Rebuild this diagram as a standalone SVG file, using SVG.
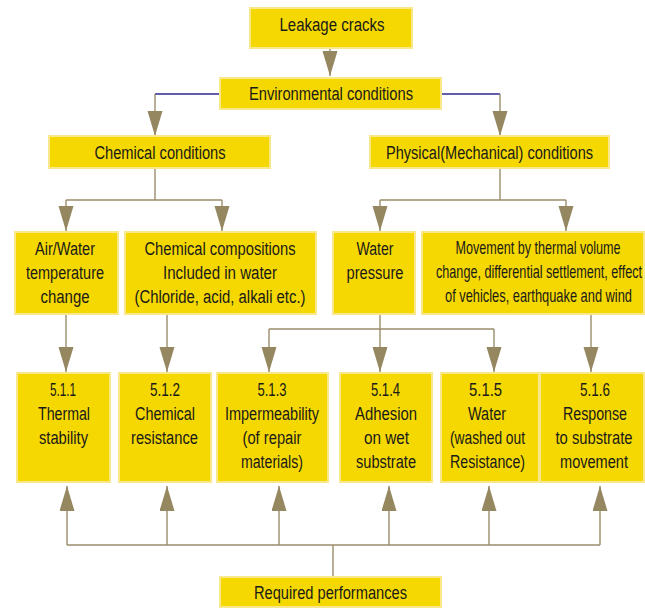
<svg xmlns="http://www.w3.org/2000/svg" width="645" height="608" viewBox="0 0 645 608">
<defs>
<style>
.box{fill:#F5D800;stroke:#F9E78C;stroke-width:2}
.t{font-family:"Liberation Sans",Arial,sans-serif;font-size:19px;fill:#1a1a1a;text-anchor:middle}
.s{font-size:17.5px}
.ln{fill:none;stroke:#9A8D6A;stroke-width:1.4}
.bl{fill:none;stroke:#2E2A8C;stroke-width:1.3}
</style>
<marker id="ah" markerUnits="userSpaceOnUse" markerWidth="26" markerHeight="16" refX="25" refY="7.5" orient="auto" viewBox="0 0 26 16">
<path d="M0,0 L25,7.5 L0,15 Z" fill="#958760"/>
</marker>
</defs>
<rect width="645" height="608" fill="#ffffff"/>
<g id="connectors">
<line class="ln" x1="330" y1="48" x2="330" y2="76" marker-end="url(#ah)"/>
<polyline class="bl" points="220,94 155,94"/>
<line class="ln" x1="155" y1="94" x2="155" y2="136" marker-end="url(#ah)"/>
<polyline class="bl" points="441,94 500,94"/>
<line class="ln" x1="500" y1="94" x2="500" y2="136" marker-end="url(#ah)"/>
<line class="ln" x1="155" y1="168" x2="155" y2="200"/>
<line class="ln" x1="66" y1="200" x2="222" y2="200"/>
<line class="ln" x1="66" y1="200" x2="66" y2="231" marker-end="url(#ah)"/>
<line class="ln" x1="222" y1="200" x2="222" y2="231" marker-end="url(#ah)"/>
<line class="ln" x1="500" y1="168" x2="500" y2="200"/>
<line class="ln" x1="380" y1="200" x2="566" y2="200"/>
<line class="ln" x1="380" y1="200" x2="380" y2="231" marker-end="url(#ah)"/>
<line class="ln" x1="566" y1="200" x2="566" y2="231" marker-end="url(#ah)"/>
<line class="ln" x1="66" y1="314" x2="66" y2="372" marker-end="url(#ah)"/>
<line class="ln" x1="167" y1="314" x2="167" y2="372" marker-end="url(#ah)"/>
<line class="ln" x1="380" y1="314" x2="380" y2="372" marker-end="url(#ah)"/>
<line class="ln" x1="269" y1="329" x2="494" y2="329"/>
<line class="ln" x1="269" y1="329" x2="269" y2="372" marker-end="url(#ah)"/>
<line class="ln" x1="494" y1="329" x2="494" y2="372" marker-end="url(#ah)"/>
<line class="ln" x1="591" y1="314" x2="591" y2="372" marker-end="url(#ah)"/>
<line class="ln" x1="67" y1="545" x2="600" y2="545"/>
<line class="ln" x1="333" y1="577" x2="333" y2="545"/>
<line class="ln" x1="67" y1="545" x2="67" y2="486" marker-end="url(#ah)"/>
<line class="ln" x1="167" y1="545" x2="167" y2="486" marker-end="url(#ah)"/>
<line class="ln" x1="279" y1="545" x2="279" y2="486" marker-end="url(#ah)"/>
<line class="ln" x1="389" y1="545" x2="389" y2="486" marker-end="url(#ah)"/>
<line class="ln" x1="489" y1="545" x2="489" y2="486" marker-end="url(#ah)"/>
<line class="ln" x1="600" y1="545" x2="600" y2="486" marker-end="url(#ah)"/>
</g>
<g id="leakage">
<rect class="box" x="250" y="8" width="162" height="40"/>
<text class="t" transform="translate(332,31) scale(0.78,1)" textLength="134.6" lengthAdjust="spacingAndGlyphs">Leakage cracks</text>
</g>
<g id="environmental">
<rect class="box" x="220" y="78" width="221" height="31"/>
<text class="t" transform="translate(331,100) scale(0.78,1)" textLength="210.3" lengthAdjust="spacingAndGlyphs">Environmental conditions</text>
</g>
<g id="chemical">
<rect class="box" x="49" y="136" width="221" height="32"/>
<text class="t" transform="translate(160,159) scale(0.78,1)" textLength="167.9" lengthAdjust="spacingAndGlyphs">Chemical conditions</text>
</g>
<g id="physical">
<rect class="box" x="370" y="136" width="239" height="32"/>
<text class="t" transform="translate(489.5,159) scale(0.78,1)" textLength="265.4" lengthAdjust="spacingAndGlyphs">Physical(Mechanical) conditions</text>
</g>
<g id="airwater">
<rect class="box" x="15" y="232" width="103" height="82"/>
<text class="t" transform="translate(65,255) scale(0.78,1)" textLength="76.9" lengthAdjust="spacingAndGlyphs">Air/Water</text>
<text class="t" transform="translate(65,279) scale(0.78,1)" textLength="100" lengthAdjust="spacingAndGlyphs">temperature</text>
<text class="t" transform="translate(65,303) scale(0.78,1)" textLength="62.8" lengthAdjust="spacingAndGlyphs">change</text>
</g>
<g id="compositions">
<rect class="box" x="125" y="232" width="191" height="82"/>
<text class="t" transform="translate(220,255) scale(0.78,1)" textLength="193.6" lengthAdjust="spacingAndGlyphs">Chemical compositions</text>
<text class="t" transform="translate(220,279) scale(0.78,1)" textLength="146.2" lengthAdjust="spacingAndGlyphs">Included in water</text>
<text class="t" transform="translate(220,303) scale(0.78,1)" textLength="219.2" lengthAdjust="spacingAndGlyphs">(Chloride, acid, alkali etc.)</text>
</g>
<g id="waterpressure">
<rect class="box" x="333" y="232" width="82" height="82"/>
<text class="t" transform="translate(375,255) scale(0.78,1)" textLength="47.4" lengthAdjust="spacingAndGlyphs">Water</text>
<text class="t" transform="translate(375,279) scale(0.78,1)" textLength="73.1" lengthAdjust="spacingAndGlyphs">pressure</text>
</g>
<g id="movement">
<rect class="box" x="422" y="232" width="222" height="82"/>
<text class="t s" transform="translate(538,254) scale(0.72,1)" textLength="229.2" lengthAdjust="spacingAndGlyphs">Movement by thermal volume</text>
<text class="t s" transform="translate(539,278) scale(0.72,1)" textLength="286.1" lengthAdjust="spacingAndGlyphs">change, differential settlement, effect</text>
<text class="t s" transform="translate(538.5,302) scale(0.72,1)" textLength="259.7" lengthAdjust="spacingAndGlyphs">of vehicles, earthquake and wind</text>
</g>
<g id="p511">
<rect class="box" x="17" y="373" width="93" height="109"/>
<text class="t" transform="translate(63,396) scale(0.78,1)" textLength="33.3" lengthAdjust="spacingAndGlyphs">5.1.1</text>
<text class="t" transform="translate(64,420) scale(0.78,1)" textLength="66.7" lengthAdjust="spacingAndGlyphs">Thermal</text>
<text class="t" transform="translate(63.5,444) scale(0.78,1)" textLength="62.8" lengthAdjust="spacingAndGlyphs">stability</text>
</g>
<g id="p512">
<rect class="box" x="119" y="373" width="92" height="109"/>
<text class="t" transform="translate(165,396) scale(0.78,1)" textLength="38.5" lengthAdjust="spacingAndGlyphs">5.1.2</text>
<text class="t" transform="translate(165,420) scale(0.78,1)" textLength="76.9" lengthAdjust="spacingAndGlyphs">Chemical</text>
<text class="t" transform="translate(164.5,444) scale(0.78,1)" textLength="85.9" lengthAdjust="spacingAndGlyphs">resistance</text>
</g>
<g id="p513">
<rect class="box" x="217" y="373" width="111" height="109"/>
<text class="t" transform="translate(272,396) scale(0.78,1)" textLength="37.2" lengthAdjust="spacingAndGlyphs">5.1.3</text>
<text class="t" transform="translate(272,420) scale(0.78,1)" textLength="120.5" lengthAdjust="spacingAndGlyphs">Impermeability</text>
<text class="t" transform="translate(272,444) scale(0.78,1)" textLength="75.6" lengthAdjust="spacingAndGlyphs">(of repair</text>
<text class="t" transform="translate(272,468) scale(0.78,1)" textLength="79.5" lengthAdjust="spacingAndGlyphs">materials)</text>
</g>
<g id="p514">
<rect class="box" x="340" y="373" width="92" height="109"/>
<text class="t" transform="translate(385.5,396) scale(0.78,1)" textLength="37.2" lengthAdjust="spacingAndGlyphs">5.1.4</text>
<text class="t" transform="translate(386,420) scale(0.78,1)" textLength="79.5" lengthAdjust="spacingAndGlyphs">Adhesion</text>
<text class="t" transform="translate(386.5,444) scale(0.78,1)" textLength="57.7" lengthAdjust="spacingAndGlyphs">on wet</text>
<text class="t" transform="translate(386,468) scale(0.78,1)" textLength="76.9" lengthAdjust="spacingAndGlyphs">substrate</text>
</g>
<g id="p515">
<rect class="box" x="441" y="373" width="98" height="109"/>
<text class="t" transform="translate(485.5,396) scale(0.78,1)" textLength="42.3" lengthAdjust="spacingAndGlyphs">5.1.5</text>
<text class="t" transform="translate(487,420) scale(0.78,1)" textLength="48.7" lengthAdjust="spacingAndGlyphs">Water</text>
<text class="t" transform="translate(487.5,444) scale(0.78,1)" textLength="96.2" lengthAdjust="spacingAndGlyphs">(washed out</text>
<text class="t" transform="translate(487.5,468) scale(0.78,1)" textLength="96.2" lengthAdjust="spacingAndGlyphs">Resistance)</text>
</g>
<g id="p516">
<rect class="box" x="540" y="373" width="104" height="109"/>
<text class="t" transform="translate(595,396) scale(0.78,1)" textLength="38.5" lengthAdjust="spacingAndGlyphs">5.1.6</text>
<text class="t" transform="translate(595,420) scale(0.78,1)" textLength="82.1" lengthAdjust="spacingAndGlyphs">Response</text>
<text class="t" transform="translate(594,444) scale(0.78,1)" textLength="98.7" lengthAdjust="spacingAndGlyphs">to substrate</text>
<text class="t" transform="translate(594,468) scale(0.78,1)" textLength="87.2" lengthAdjust="spacingAndGlyphs">movement</text>
</g>
<g id="required">
<rect class="box" x="220" y="577" width="221" height="30"/>
<text class="t" transform="translate(330.5,599) scale(0.78,1)" textLength="196.2" lengthAdjust="spacingAndGlyphs">Required performances</text>
</g>
</svg>
